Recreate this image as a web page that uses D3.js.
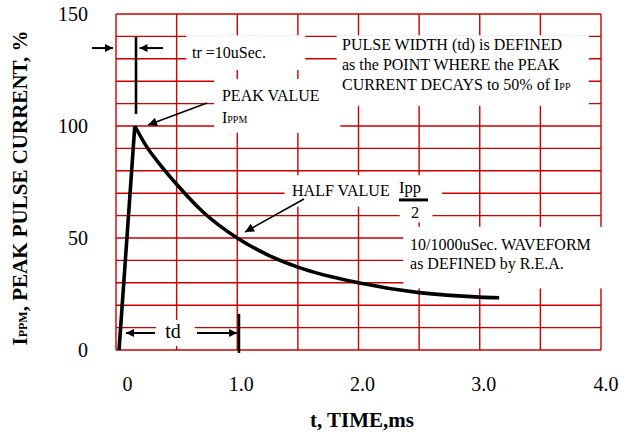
<!DOCTYPE html>
<html>
<head>
<meta charset="utf-8">
<script src="https://cdn.jsdelivr.net/npm/d3@7/dist/d3.min.js"></script>
<style>
    body { margin: 0; background: #fff; }
    svg { display: block; font-family: "Liberation Serif", "Times New Roman", serif; }
</style>
</head>
<body>
<svg id="chart" width="620" height="434"></svg>
<script>
    // 10/1000 uSec waveform (t in ms, current in % of Ippm)
    var riseT = [0.025, 0.155];
    var riseV = [0, 100];
    var decayT = [0.155, 0.25, 0.39, 0.5, 0.72, 1.0, 1.25, 1.5, 2.0, 2.5, 3.0, 3.16];
    var decayV = [100, 91, 81, 74, 61.5, 50, 42.5, 37, 30, 25.6, 23.6, 23.3];

    // axes / grid
    var xTicks = [0, 1, 2, 3, 4];
    var yTicks = [0, 50, 100, 150];
    var gridT = [0, 0.5, 1, 1.5, 2, 2.5, 3, 3.5, 4];
    var gridV = [0, 10, 20, 30, 40, 50, 60, 70, 80, 90, 100, 110, 120, 130, 140, 150];

    var svg = d3.select("#chart");

    var x = d3.scaleLinear().domain([0, 4]).range([116, 601]);
    var y = d3.scaleLinear().domain([0, 150]).range([350, 14]);

    var defs = svg.append("defs");
    function addHead(id, w, h) {
        defs.append("marker")
            .attr("id", id)
            .attr("viewBox", "0 0 10 10")
            .attr("refX", 10).attr("refY", 5)
            .attr("markerWidth", w).attr("markerHeight", h)
            .attr("markerUnits", "userSpaceOnUse")
            .attr("orient", "auto")
            .append("path")
            .attr("d", "M0,0L10,5L0,10z")
            .attr("fill", "#000");
    }
    addHead("head", 9, 8);
    addHead("headBig", 12, 9);

    // grid (frame included)
    var gp = d3.path();
    gridT.forEach(function(t) { gp.moveTo(x(t), y(0)); gp.lineTo(x(t), y(150)); });
    gridV.forEach(function(v) { gp.moveTo(x(0), y(v)); gp.lineTo(x(4), y(v)); });
    svg.append("path")
        .attr("d", gp.toString())
        .attr("fill", "none")
        .attr("stroke", "#c00")
        .attr("stroke-width", 1.4);

    // white boxes behind the notes [t0, t1, v0, v1]
    var knockouts = [
        [0.58, 1.56, 125, 140.5],
        [0.81, 1.85, 97, 121],
        [1.82, 3.9, 109, 140.5],
        [1.39, 2.69, 64, 78],
        [2.34, 2.61, 57, 64],
        [2.37, 4.03, 27.5, 55],
        [0.33, 0.65, 1.8, 13.4]
    ];
    svg.append("g").selectAll("rect").data(knockouts).join("rect")
        .attr("x", function(d) { return x(d[0]); })
        .attr("y", function(d) { return y(d[3]); })
        .attr("width", function(d) { return x(d[1]) - x(d[0]); })
        .attr("height", function(d) { return y(d[2]) - y(d[3]); })
        .attr("fill", "#fff");

    // waveform
    var line = d3.line()
        .x(function(d) { return x(d[0]); })
        .y(function(d) { return y(d[1]); });

    svg.append("path")
        .datum(d3.zip(riseT, riseV))
        .attr("d", line)
        .attr("fill", "none")
        .attr("stroke", "#000")
        .attr("stroke-width", 3.6);

    svg.append("path")
        .datum(d3.zip(decayT, decayV))
        .attr("d", line.curve(d3.curveMonotoneX))
        .attr("fill", "none")
        .attr("stroke", "#000")
        .attr("stroke-width", 3.6);

    // marker bars (tr and td)
    var bars = [
        [0.165, 139.7, 0.165, 105.4],
        [1.014, 16.1, 1.014, -1.3]
    ];
    svg.append("g").selectAll("line").data(bars).join("line")
        .attr("x1", function(d) { return x(d[0]); })
        .attr("y1", function(d) { return y(d[1]); })
        .attr("x2", function(d) { return x(d[2]); })
        .attr("y2", function(d) { return y(d[3]); })
        .attr("stroke", "#000")
        .attr("stroke-width", 2.6);

    // arrows [t from, v from, t to, v to, width, head]
    var arrows = [
        [-0.198, 134.8, -0.025, 134.8, 2, "head"],
        [0.388, 134.8, 0.194, 134.8, 2, "head"],
        [0.75, 110.3, 0.264, 100.4, 1.6, "headBig"],
        [1.55, 67.4, 1.064, 52.7, 1.6, "headBig"],
        [0.322, 7.6, 0.082, 7.6, 2, "head"],
        [0.668, 7.6, 0.998, 7.6, 2, "head"]
    ];
    svg.append("g").selectAll("line").data(arrows).join("line")
        .attr("x1", function(d) { return x(d[0]); })
        .attr("y1", function(d) { return y(d[1]); })
        .attr("x2", function(d) { return x(d[2]); })
        .attr("y2", function(d) { return y(d[3]); })
        .attr("stroke", "#000")
        .attr("stroke-width", function(d) { return d[4]; })
        .attr("marker-end", function(d) { return "url(#" + d[5] + ")"; });

    // notes
    var notes = svg.append("g").attr("fill", "#000");

    function note(t, v, parts, size, anchor) {
        var txt = notes.append("text")
            .attr("x", x(t))
            .attr("y", y(v))
            .attr("font-size", size || 16)
            .attr("text-anchor", anchor || "start");
        parts.forEach(function(p) {
            txt.append("tspan")
                .attr("font-size", p.sub ? 10 : null)
                .text(p.s);
        });
        return txt;
    }

    note(0.627, 130.4, [{ s: "tr =10uSec." }]);
    note(1.864, 133.9, [{ s: "PULSE WIDTH (td) is DEFINED" }]);
    note(1.864, 125, [{ s: "as the POINT WHERE the PEAK" }]);
    note(1.864, 116.1, [{ s: "CURRENT DECAYS to 50% of I" }, { s: "PP", sub: true }]);
    note(0.874, 111.2, [{ s: "PEAK VALUE" }]);
    note(0.874, 101.3, [{ s: "I" }, { s: "PPM", sub: true }]);
    note(1.452, 68.6, [{ s: "HALF VALUE" }]);
    note(2.334, 70.1, [{ s: "Ipp" }], 16.5);
    note(2.466, 58.9, [{ s: "2" }], 16.5, "middle");
    note(2.425, 44.6, [{ s: "10/1000uSec. WAVEFORM" }]);
    note(2.425, 36.2, [{ s: "as DEFINED by R.E.A." }]);
    note(0.47, 5.4, [{ s: "td" }], 20, "middle");

    // fraction bar under Ipp
    svg.append("line")
        .attr("x1", x(2.334)).attr("x2", x(2.573))
        .attr("y1", y(67)).attr("y2", y(67))
        .attr("stroke", "#000")
        .attr("stroke-width", 3);

    // axes
    var yAxis = svg.append("g")
        .attr("transform", "translate(" + x(0) + ",0)")
        .call(d3.axisLeft(y).tickValues(yTicks).tickSize(0).tickPadding(28));

    var xAxis = svg.append("g")
        .attr("transform", "translate(0," + y(0) + ")")
        .call(d3.axisBottom(x).tickValues(xTicks).tickSize(0)
            .tickFormat(function(d) { return d === 0 ? "0" : d3.format(".1f")(d); }));

    [yAxis, xAxis].forEach(function(g) {
        g.attr("font-family", null);
        g.select(".domain").remove();
        g.selectAll("text")
            .attr("font-size", 20)
            .attr("fill", "#000");
    });

    xAxis.selectAll("text")
        .attr("y", 41)
        .attr("dy", 0)
        .attr("dx", function(d) { return d === 0 ? 11 : (d === 4 ? 4.5 : 3.5); });

    // axis titles
    var yTitle = svg.append("text")
        .attr("transform", "translate(27,188) rotate(-90)")
        .attr("text-anchor", "middle")
        .attr("font-weight", "bold")
        .attr("font-size", 21);
    yTitle.append("tspan").text("I");
    yTitle.append("tspan").attr("font-size", 12).text("PPM");
    yTitle.append("tspan").text(", PEAK PULSE CURRENT, %");

    svg.append("text")
        .attr("x", 310)
        .attr("y", 427)
        .attr("font-weight", "bold")
        .attr("font-size", 21)
        .text("t, TIME,ms");
</script>
</body>
</html>
